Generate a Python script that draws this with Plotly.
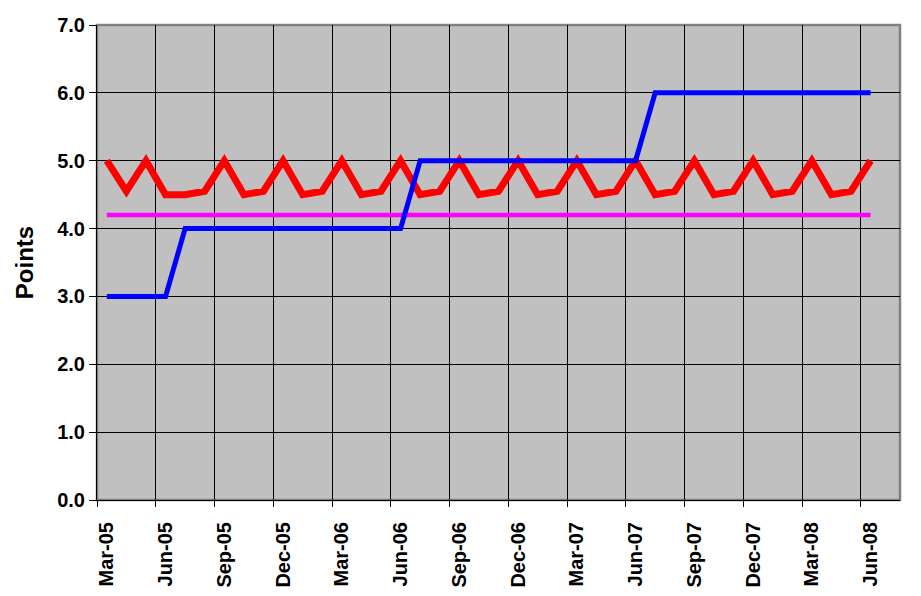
import plotly.graph_objects as go

months = ["Mar-05", "Apr-05", "May-05", "Jun-05", "Jul-05", "Aug-05", "Sep-05", "Oct-05", "Nov-05",
          "Dec-05", "Jan-06", "Feb-06", "Mar-06", "Apr-06", "May-06", "Jun-06", "Jul-06", "Aug-06",
          "Sep-06", "Oct-06", "Nov-06", "Dec-06", "Jan-07", "Feb-07", "Mar-07", "Apr-07", "May-07",
          "Jun-07", "Jul-07", "Aug-07", "Sep-07", "Oct-07", "Nov-07", "Dec-07", "Jan-08", "Feb-08",
          "Mar-08", "Apr-08", "May-08", "Jun-08", "Jul-08"]

red_values = [5.0, 4.55, 5.0, 4.5, 4.5, 4.55, 5.0, 4.5, 4.55, 5.0,
              4.5, 4.55, 5.0, 4.5, 4.55, 5.0, 4.5, 4.55, 5.0, 4.5,
              4.55, 5.0, 4.5, 4.55, 5.0, 4.5, 4.55, 5.0, 4.5, 4.55,
              5.0, 4.5, 4.55, 5.0, 4.5, 4.55, 5.0, 4.5, 4.55, 5.0]

blue_values = [3, 3, 3, 3, 4, 4, 4, 4, 4, 4,
               4, 4, 4, 4, 4, 4, 5, 5, 5, 5,
               5, 5, 5, 5, 5, 5, 5, 5, 6, 6,
               6, 6, 6, 6, 6, 6, 6, 6, 6, 6]

magenta_values = [4.2] * 40

x_idx = list(range(len(red_values)))
label_idx = list(range(0, 40, 3))
label_text = [months[i] for i in label_idx]
boundary_vals = [i - 0.5 for i in label_idx]

fig = go.Figure()
fig.add_trace(go.Scatter(x=x_idx, y=magenta_values, mode="lines",
                         line=dict(color="#FF00FF", width=4.5), showlegend=False))
fig.add_trace(go.Scatter(x=x_idx, y=red_values, mode="lines",
                         line=dict(color="#FF0000", width=7), showlegend=False))
fig.add_trace(go.Scatter(x=x_idx, y=blue_values, mode="lines",
                         line=dict(color="#0000FF", width=5), showlegend=False))

font_family = "Liberation Sans, Arial, sans-serif"

# page body has an 8px default margin, so the figure is sized to fit inside it
fig.update_layout(
    width=905, height=580,
    margin=dict(l=89, r=13, t=17, b=88),
    paper_bgcolor="white",
    plot_bgcolor="#C0C0C0",
    font=dict(family=font_family, color="black"),
    showlegend=False,
    shapes=[dict(type="rect", xref="paper", yref="paper", x0=0, y0=0, x1=1, y1=1,
                 line=dict(color="#808080", width=2.5), layer="below")],
)

fig.update_xaxes(
    range=[-0.5, 40.5], automargin=False,
    tickmode="array", tickvals=label_idx, ticktext=label_text,
    tickangle=-90,
    tickfont=dict(family=font_family, size=20, weight="bold", color="black"),
    ticks="outside", ticklen=6, tickcolor="rgba(0,0,0,0)",
    ticklabelstandoff=7,
    showgrid=False, zeroline=False,
    showline=True, linecolor="black", linewidth=1,
    minor=dict(tickmode="array", tickvals=boundary_vals, ticks="outside", ticklen=6,
               tickcolor="black", showgrid=True, gridcolor="black", gridwidth=1),
)

fig.update_yaxes(
    range=[0, 7], dtick=1, tick0=0, tickformat=".1f", automargin=False,
    tickfont=dict(family=font_family, size=20, weight="bold", color="black"),
    ticks="outside", ticklen=7, tickcolor="black",
    showgrid=True, gridcolor="black", gridwidth=1,
    zeroline=False,
    showline=True, linecolor="black", linewidth=1,
    title=dict(text="Points", font=dict(family=font_family, size=24, weight="bold", color="black"),
               standoff=16),
)

fig.write_html("out.html")
